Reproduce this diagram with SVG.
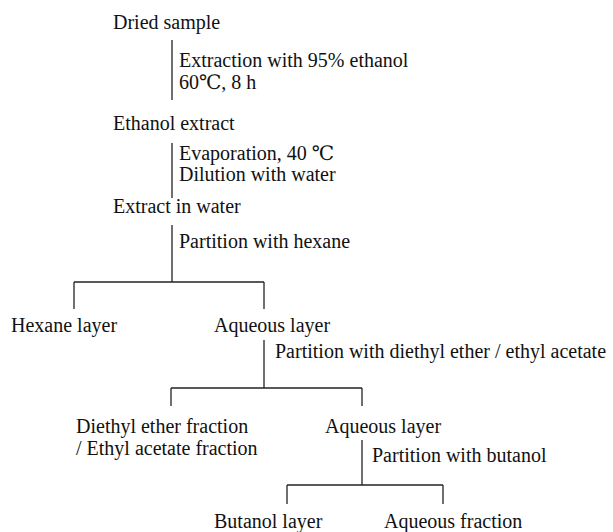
<svg xmlns="http://www.w3.org/2000/svg" width="613" height="532" viewBox="0 0 613 532">
<style>
text { font-family: 'Liberation Serif', 'DejaVu Serif', serif; font-size: 20px; fill: #111; }
.c line { stroke: #222; stroke-width: 1.3; fill: none; }
</style>
<rect width="613" height="532" fill="#fff"/>
<g id="n-dried"><text x="113" y="29">Dried sample</text></g>
<g id="s1"><text x="179" y="67">Extraction with 95% ethanol</text><text x="179" y="89">60℃, 8 h</text></g>
<g id="n-ethanol"><text x="113" y="130">Ethanol extract</text></g>
<g id="s2"><text x="179" y="160">Evaporation, 40 ℃</text><text x="179" y="181">Dilution with water</text></g>
<g id="n-water"><text x="113" y="213">Extract in water</text></g>
<g id="s3"><text x="179" y="248">Partition with hexane</text></g>
<g id="n-hexane"><text x="11" y="332">Hexane layer</text></g>
<g id="n-aq1"><text x="214" y="332">Aqueous layer</text></g>
<g id="s4"><text x="275" y="358">Partition with diethyl ether / ethyl acetate</text></g>
<g id="n-ether"><text x="76" y="433">Diethyl ether fraction</text><text x="76" y="455">/ Ethyl acetate fraction</text></g>
<g id="n-aq2"><text x="325" y="433">Aqueous layer</text></g>
<g id="s5"><text x="372" y="462">Partition with butanol</text></g>
<g id="n-butanol"><text x="214" y="528">Butanol<tspan dx="5">layer</tspan></text></g>
<g id="n-aqf"><text x="384" y="528">Aqueous fraction</text></g>
<g class="c" id="connectors">
<line x1="172" y1="40" x2="172" y2="100"/>
<line x1="172" y1="143" x2="172" y2="198"/>
<line x1="172" y1="225" x2="172" y2="282"/>
<line x1="74" y1="282" x2="264" y2="282"/>
<line x1="74" y1="282" x2="74" y2="309"/>
<line x1="264" y1="282" x2="264" y2="309"/>
<line x1="264" y1="340" x2="264" y2="388"/>
<line x1="171" y1="388" x2="362" y2="388"/>
<line x1="171" y1="388" x2="171" y2="406"/>
<line x1="362" y1="388" x2="362" y2="406"/>
<line x1="362" y1="440" x2="362" y2="485"/>
<line x1="287" y1="485" x2="443" y2="485"/>
<line x1="287" y1="485" x2="287" y2="504"/>
<line x1="443" y1="485" x2="443" y2="504"/>
</g>
</svg>
